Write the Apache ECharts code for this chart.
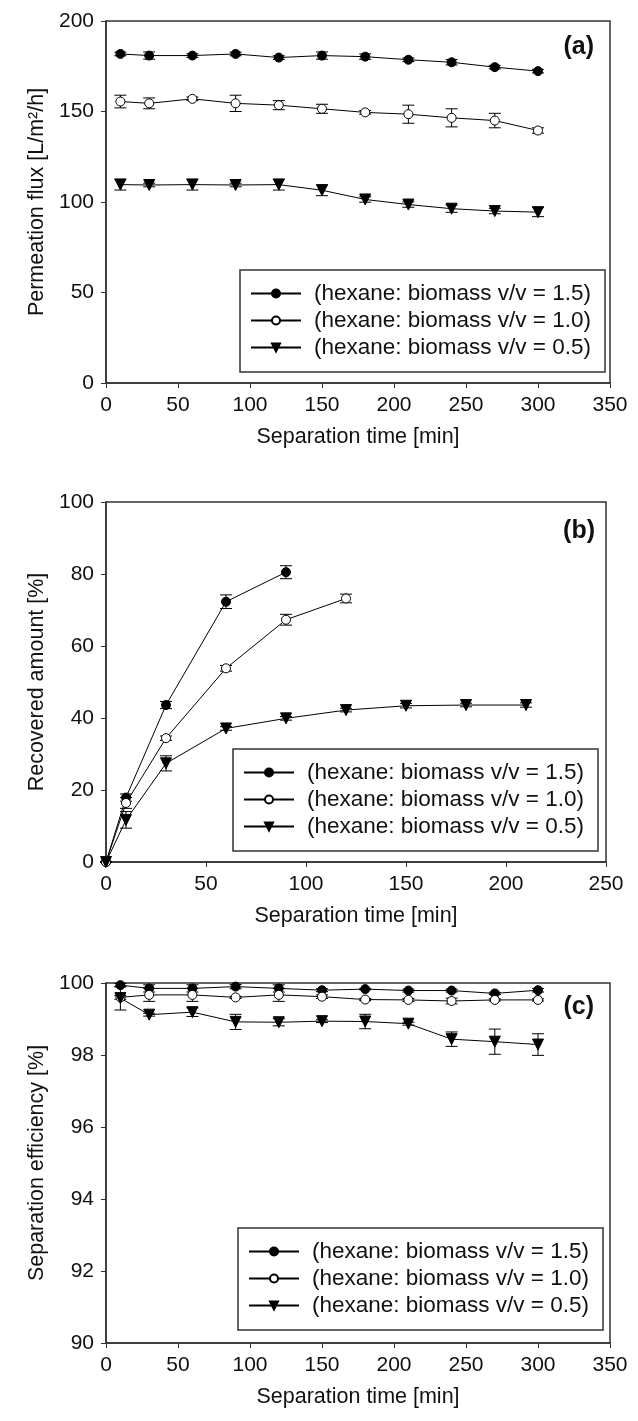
<!DOCTYPE html>
<html>
<head>
<meta charset="utf-8">
<script src="https://cdn.jsdelivr.net/npm/echarts@6/dist/echarts.min.js"></script>
<style>
  html, body { margin: 0; padding: 0; background: #fff; }
  #chart { width: 638px; height: 1421px; }
</style>
</head>
<body>
<div id="chart"></div>
<script>
// ---- data ----
const names = ['(hexane: biomass v/v = 1.5)', '(hexane: biomass v/v = 1.0)', '(hexane: biomass v/v = 0.5)'];

// (a) permeation flux
const timeA = [10, 30, 60, 90, 120, 150, 180, 210, 240, 270, 300];
const flux15 = [181.8, 180.9, 180.9, 181.8, 179.8, 180.9, 180.3, 178.6, 177.2, 174.5, 172.3];
const flux15Err = [1, 2, 1, 1, 1, 2, 1.5, 1, 1.5, 1, 1];
const flux10 = [155.5, 154.5, 157, 154.5, 153.5, 151.5, 149.5, 148.5, 146.5, 145, 139.5];
const flux10Err = [3.5, 3, 1, 4.5, 2.5, 2.5, 1, 5, 5, 4, 1.5];
const flux05 = [109.6, 109.4, 109.6, 109.4, 109.6, 106.5, 101.4, 98.6, 96.3, 95, 94.4];
const flux05Err = [3, 1, 3, 1, 3, 3, 1.5, 1.5, 2, 1.5, 2.5];

// (b) recovered amount
const timeB15 = [0, 10, 30, 60, 90];
const rec15 = [0, 17.9, 43.6, 72.3, 80.5];
const rec15Err = [0, 1, 1, 1.9, 1.8];
const timeB10 = [0, 10, 30, 60, 90, 120];
const rec10 = [0, 16.4, 34.4, 53.8, 67.3, 73.2];
const rec10Err = [0, 1.5, 0.6, 0.8, 1.5, 1.2];
const timeB05 = [0, 10, 30, 60, 90, 120, 150, 180, 210];
const rec05 = [0, 11.7, 27.4, 37.1, 39.9, 42.2, 43.4, 43.6, 43.6];
const rec05Err = [0, 2.3, 2.1, 0.5, 0.5, 0.5, 0.6, 0.5, 0.6];

// (c) separation efficiency
const timeC = [10, 30, 60, 90, 120, 150, 180, 210, 240, 270, 300];
const eff15 = [99.94, 99.85, 99.85, 99.9, 99.85, 99.8, 99.83, 99.79, 99.79, 99.71, 99.8];
const eff15Err = [0.05, 0.1, 0.1, 0.06, 0.1, 0.04, 0.02, 0.04, 0.04, 0.03, 0.05];
const eff10 = [99.6, 99.67, 99.67, 99.6, 99.67, 99.62, 99.54, 99.53, 99.5, 99.53, 99.53];
const eff10Err = [0.05, 0.18, 0.18, 0.03, 0.18, 0.05, 0.03, 0.04, 0.08, 0.03, 0.03];
const eff05 = [99.58, 99.12, 99.19, 98.92, 98.91, 98.94, 98.93, 98.87, 98.44, 98.37, 98.29];
const eff05Err = [0.33, 0.04, 0.12, 0.21, 0.1, 0.04, 0.2, 0.04, 0.2, 0.35, 0.3];

const FONT = '"Liberation Sans", Arial, sans-serif';
const TXT = '#111';
const FRAME = '#333';

// marker styles per ratio (1.5 filled circle, 1.0 open circle, 0.5 down triangle)
const markers = [
  { symbol: 'circle', size: 9, fill: '#000', rotate: 0 },
  { symbol: 'circle', size: 9, fill: '#fff', rotate: 0 },
  { symbol: 'triangle', size: 11, fill: '#000', rotate: 180 }
];

function lineSeries(k, idx, xs, ys) {
  const m = markers[k];
  return {
    name: names[k], type: 'line', xAxisIndex: idx, yAxisIndex: idx,
    data: xs.map((x, i) => [x, ys[i]]),
    symbol: m.symbol, symbolSize: m.size, symbolRotate: m.rotate,
    showAllSymbol: true, clip: false, z: 3,
    lineStyle: { color: '#000', width: 1 },
    itemStyle: { color: m.fill, borderColor: '#000', borderWidth: 1 }
  };
}

// vertical error bar with caps, drawn below the markers
function errSeries(idx, xs, ys, es) {
  return {
    type: 'custom', xAxisIndex: idx, yAxisIndex: idx, z: 2, silent: true,
    data: xs.map((x, i) => [x, ys[i] - es[i], ys[i] + es[i]]),
    renderItem(params, api) {
      const lo = api.coord([api.value(0), api.value(1)]);
      const hi = api.coord([api.value(0), api.value(2)]);
      const w = 6;
      const st = { stroke: '#000', lineWidth: 1 };
      return {
        type: 'group',
        children: [
          { type: 'line', shape: { x1: lo[0], y1: lo[1], x2: hi[0], y2: hi[1] }, style: st },
          { type: 'line', shape: { x1: lo[0] - w, y1: lo[1], x2: lo[0] + w, y2: lo[1] }, style: st },
          { type: 'line', shape: { x1: hi[0] - w, y1: hi[1], x2: hi[0] + w, y2: hi[1] }, style: st }
        ]
      };
    }
  };
}

function xAxis(idx, max) {
  return {
    type: 'value', gridIndex: idx, min: 0, max: max, interval: 50,
    name: 'Separation time [min]', nameLocation: 'middle', nameGap: 43,
    nameTextStyle: { fontFamily: FONT, fontSize: 21.5, color: TXT },
    axisLine: { lineStyle: { color: FRAME, width: 1.5 } },
    axisTick: { inside: false, length: 5, lineStyle: { color: FRAME } },
    axisLabel: { fontFamily: FONT, fontSize: 21, color: TXT, margin: 12 },
    splitLine: { show: false }
  };
}

function yAxis(idx, min, max, interval, title) {
  return {
    type: 'value', gridIndex: idx, min: min, max: max, interval: interval,
    name: title, nameLocation: 'middle', nameGap: 52,
    nameTextStyle: { fontFamily: FONT, fontSize: 21.5, color: TXT },
    axisLine: { show: true, lineStyle: { color: FRAME, width: 1.5 } },
    axisTick: { show: true, inside: false, length: 5, lineStyle: { color: FRAME } },
    axisLabel: { fontFamily: FONT, fontSize: 21, color: TXT, margin: 12 },
    splitLine: { show: false }
  };
}

function legend(left, top) {
  return {
    data: names, orient: 'vertical', left: left, top: top,
    padding: [12, 14, 13, 10], itemGap: 4, itemWidth: 50, itemHeight: 10,
    borderColor: FRAME, borderWidth: 1.5, borderRadius: 0,
    selectedMode: false,
    textStyle: { fontFamily: FONT, fontSize: 22.5, color: TXT, padding: [0, 0, 0, 8] }
  };
}

function panelLabel(text, right, top) {
  return { text: text, right: right, top: top, padding: 0,
    textStyle: { fontFamily: FONT, fontSize: 25, fontWeight: 'bold', color: TXT } };
}

const grid = { show: true, borderColor: FRAME, borderWidth: 1.5, backgroundColor: 'transparent' };

const chart = echarts.init(document.getElementById('chart'));
chart.setOption({
  backgroundColor: '#fff',
  animation: false,
  title: [panelLabel('(a)', 44, 35), panelLabel('(b)', 43, 519), panelLabel('(c)', 44, 995)],
  legend: [legend(240, 270), legend(233, 749), legend(238, 1228)],
  grid: [
    Object.assign({ left: 106, top: 21, width: 504, height: 362 }, grid),
    Object.assign({ left: 106, top: 502, width: 500, height: 360 }, grid),
    Object.assign({ left: 106, top: 983, width: 504, height: 360 }, grid)
  ],
  xAxis: [xAxis(0, 350), xAxis(1, 250), xAxis(2, 350)],
  yAxis: [
    yAxis(0, 0, 200, 50, 'Permeation flux [L/m²/h]'),
    yAxis(1, 0, 100, 20, 'Recovered amount [%]'),
    yAxis(2, 90, 100, 2, 'Separation efficiency [%]')
  ],
  series: [
    errSeries(0, timeA, flux15, flux15Err),
    errSeries(0, timeA, flux10, flux10Err),
    errSeries(0, timeA, flux05, flux05Err),
    lineSeries(0, 0, timeA, flux15),
    lineSeries(1, 0, timeA, flux10),
    lineSeries(2, 0, timeA, flux05),

    errSeries(1, timeB15, rec15, rec15Err),
    errSeries(1, timeB10, rec10, rec10Err),
    errSeries(1, timeB05, rec05, rec05Err),
    lineSeries(0, 1, timeB15, rec15),
    lineSeries(1, 1, timeB10, rec10),
    lineSeries(2, 1, timeB05, rec05),

    errSeries(2, timeC, eff15, eff15Err),
    errSeries(2, timeC, eff10, eff10Err),
    errSeries(2, timeC, eff05, eff05Err),
    lineSeries(0, 2, timeC, eff15),
    lineSeries(1, 2, timeC, eff10),
    lineSeries(2, 2, timeC, eff05)
  ]
});
</script>
</body>
</html>
